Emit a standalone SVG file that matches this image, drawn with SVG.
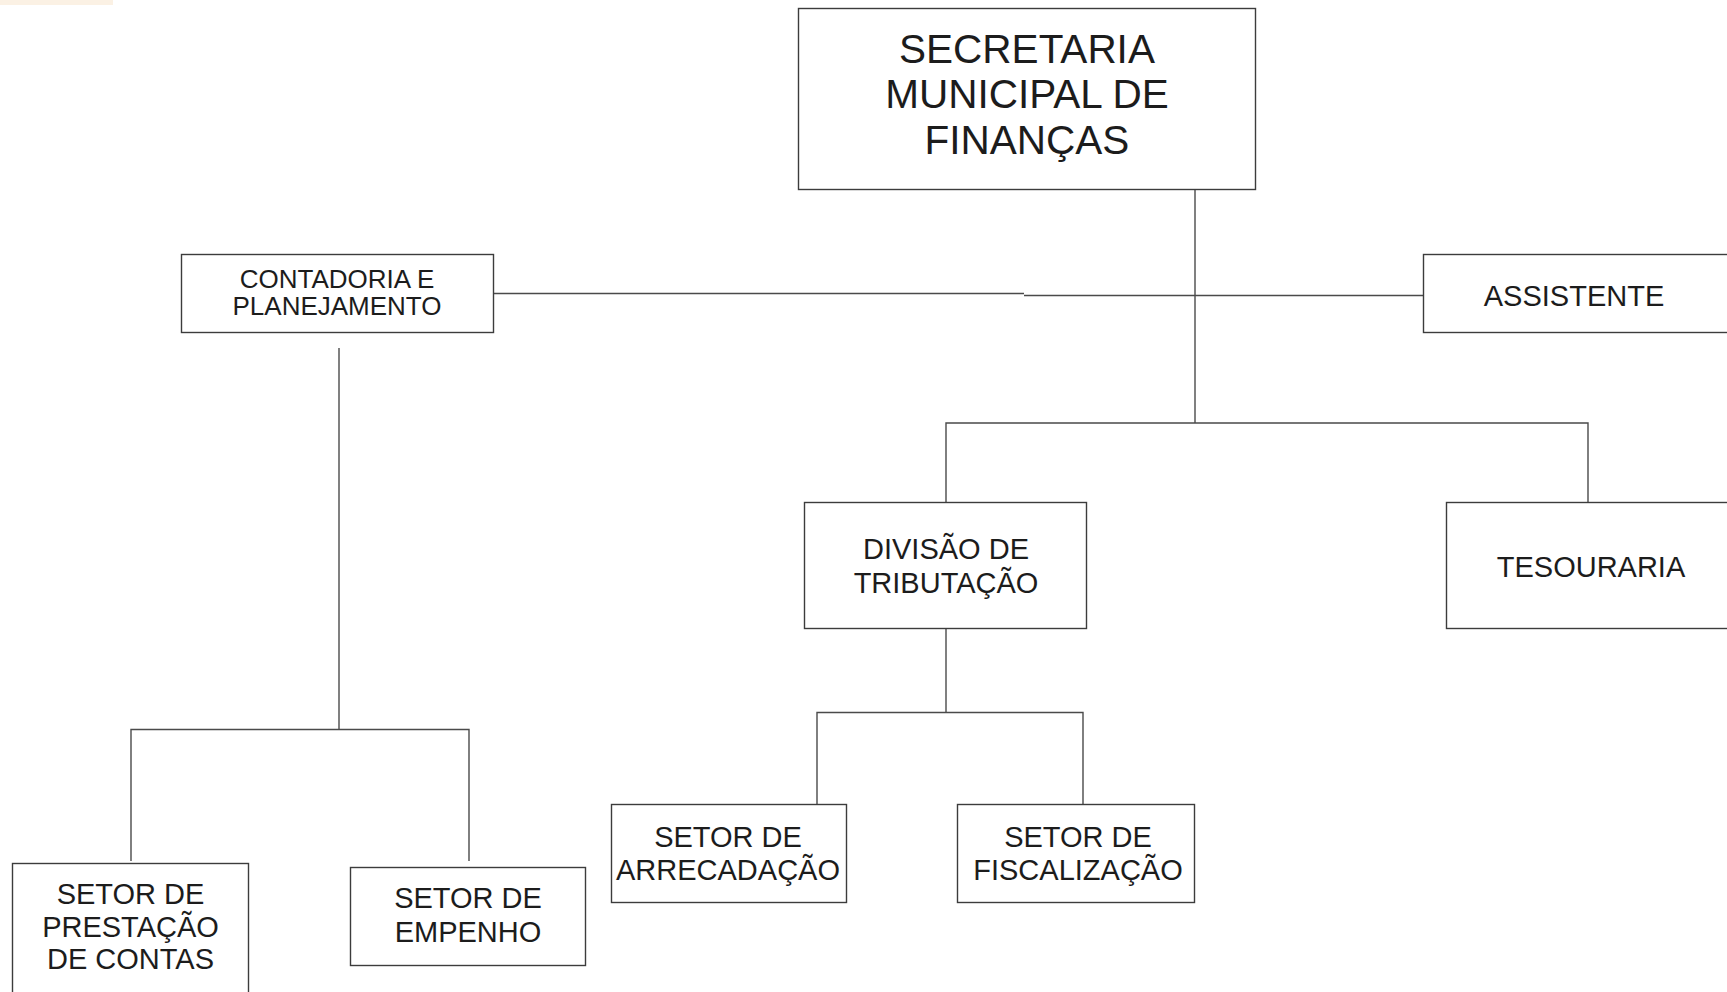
<svg xmlns="http://www.w3.org/2000/svg" width="1727" height="992" viewBox="0 0 1727 992">
<style>
.box{fill:#fff;stroke:#3c3c3c;stroke-width:1.4}
.ln{fill:none;stroke:#4a4a4a;stroke-width:1.4}
text{font-family:"Liberation Sans",Arial,sans-serif;fill:#1c1c1c;text-anchor:middle}
.t29{font-size:29px}
.t26{font-size:26px}
.t40{font-size:40.5px}
</style>
<rect x="0" y="0" width="113" height="5" fill="#fbf1e4"/>
<g id="connectors">
<path class="ln" d="M1195,189 V423"/>
<path class="ln" d="M493,293.5 H1024"/>
<path class="ln" d="M1024,295.5 H1423"/>
<path class="ln" d="M946,502 V423 H1588 V502"/>
<path class="ln" d="M946,628 V712.5"/>
<path class="ln" d="M817,804 V712.5 H1083 V804"/>
<path class="ln" d="M339,348 V729.5"/>
<path class="ln" d="M131,861 V729.5 H469 V861"/>
</g>
<g id="secretaria">
<rect class="box" x="798.5" y="8.5" width="457" height="181"/>
<text class="t40" x="1027" y="63">SECRETARIA</text>
<text class="t40" x="1027" y="108">MUNICIPAL DE</text>
<text class="t40" x="1027" y="154">FINANÇAS</text>
</g>
<g id="contadoria">
<rect class="box" x="181.5" y="254.5" width="312" height="78"/>
<text class="t26" x="337" y="288">CONTADORIA E</text>
<text class="t26" x="337" y="315">PLANEJAMENTO</text>
</g>
<g id="assistente">
<rect class="box" x="1423.5" y="254.5" width="320" height="78"/>
<text class="t29" x="1574" y="306">ASSISTENTE</text>
</g>
<g id="divisao">
<rect class="box" x="804.5" y="502.5" width="282" height="126"/>
<text class="t29" x="946" y="559">DIVISÃO DE</text>
<text class="t29" x="946" y="593">TRIBUTAÇÃO</text>
</g>
<g id="tesouraria">
<rect class="box" x="1446.5" y="502.5" width="300" height="126"/>
<text class="t29" x="1591" y="577">TESOURARIA</text>
</g>
<g id="arrecadacao">
<rect class="box" x="611.5" y="804.5" width="235" height="98"/>
<text class="t29" x="728" y="847">SETOR DE</text>
<text class="t29" x="728" y="880">ARRECADAÇÃO</text>
</g>
<g id="fiscalizacao">
<rect class="box" x="957.5" y="804.5" width="237" height="98"/>
<text class="t29" x="1078" y="847">SETOR DE</text>
<text class="t29" x="1078" y="880">FISCALIZAÇÃO</text>
</g>
<g id="prestacao">
<rect class="box" x="12.5" y="863.5" width="236" height="140"/>
<text class="t29" x="130.5" y="904">SETOR DE</text>
<text class="t29" x="130.5" y="937">PRESTAÇÃO</text>
<text class="t29" x="130.5" y="969">DE CONTAS</text>
</g>
<g id="empenho">
<rect class="box" x="350.5" y="867.5" width="235" height="98"/>
<text class="t29" x="468" y="908">SETOR DE</text>
<text class="t29" x="468" y="942">EMPENHO</text>
</g>
</svg>
